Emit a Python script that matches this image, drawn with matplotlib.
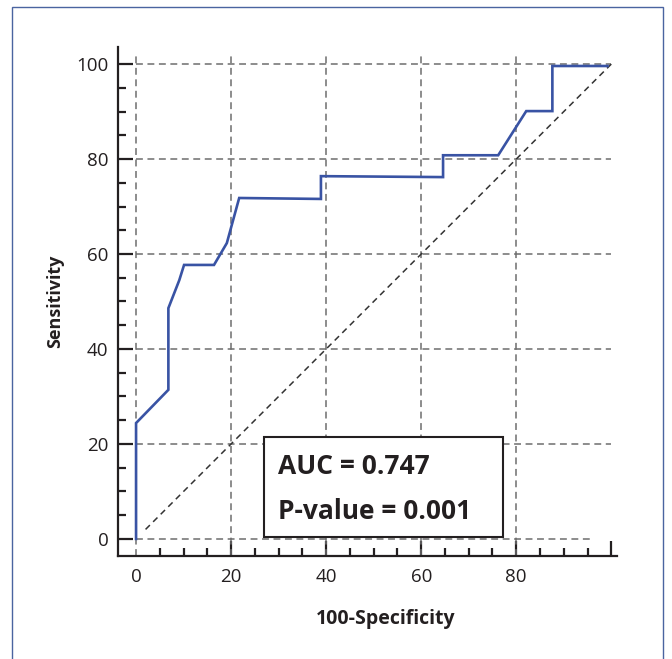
import matplotlib.pyplot as plt
from matplotlib.patches import Rectangle

# ROC curve points (100-specificity, sensitivity)
fpr = [0, 0, 6.8, 6.8, 9.1, 10.1, 16.4, 19.1, 21.7, 38.9, 38.9, 64.6, 64.6, 76.2, 82.1, 87.6, 87.6, 99.2]
tpr = [0, 24.4, 31.4, 48.6, 54.5, 57.7, 57.7, 62.3, 71.8, 71.6, 76.4, 76.2, 80.8, 80.8, 90.1, 90.1, 99.6, 99.6]
ticks = [0, 20, 40, 60, 80]
yticks = [0, 20, 40, 60, 80, 100]
auc_text = "AUC = 0.747"
p_text = "P-value = 0.001"

plt.rcParams['font.family'] = ['Open Sans', 'DejaVu Sans']
txt_col = '#231f20'

fig = plt.figure(figsize=(6.72, 6.59), dpi=100)
# outer frame
fig.patches.append(Rectangle((12 / 672, -0.05), 651 / 672, 1.04, transform=fig.transFigure,
                             fill=False, edgecolor='#4a64a0', lw=1.0))
ax = fig.add_axes([118 / 672, 1 - 556 / 659, 499 / 672, 509 / 659])

# grid
grid_kw = dict(color='#6d6d6d', lw=1.1, linestyles=(0, (4.5, 3)))
ax.hlines([20, 40, 60, 80, 100], 0, 100, **grid_kw)
ax.hlines([0], 0, 95.5, **grid_kw)
ax.vlines(ticks, -3.6, 102.3, **grid_kw)

# reference diagonal
ax.plot([2, 100], [2, 100], color='#333333', lw=1.1, ls=(0, (4, 3)))
# ROC curve
ax.plot(fpr, tpr, color='#3953a4', lw=1.9, solid_joinstyle='miter')

ax.set_xlim(-3.8, 101.2)
ax.set_ylim(-3.6, 103.6)
for s in ['top', 'right']:
    ax.spines[s].set_visible(False)
for s in ['left', 'bottom']:
    ax.spines[s].set_color(txt_col)
    ax.spines[s].set_linewidth(1.6)

ax.set_xticks(ticks + [100])
ax.set_xticklabels([str(t) for t in ticks] + [''])
ax.set_xticks([v for v in range(5, 100, 5) if v % 20], minor=True)
ax.set_yticks(yticks)
ax.set_yticks([v for v in range(5, 100, 5) if v % 20], minor=True)
ax.tick_params(which='major', direction='in', length=11, width=1.6, color=txt_col,
               labelsize=13.5, labelcolor=txt_col, pad=7)
ax.tick_params(which='minor', direction='in', length=6, width=1.6, color=txt_col)
ax.tick_params(axis='x', which='major', pad=9)
# no tick at 0 on x
ax.xaxis.get_major_ticks()[0].tick1line.set_visible(False)

ax.set_ylabel('Sensitivity', fontsize=13, fontweight='bold', color=txt_col)
ax.yaxis.set_label_coords(-0.108, 0.5)
ax.set_xlabel('100-Specificity', fontsize=14, fontweight='bold', color=txt_col)
ax.xaxis.set_label_coords(0.536, -0.104)

# annotation box
ax.add_patch(Rectangle((26.9, 0.4), 50.4, 21.1, fill=True, facecolor='white',
                       edgecolor='#231f20', lw=1.5, zorder=5))
ax.text(29.8, 15.2, auc_text, fontsize=19, fontweight='bold', color=txt_col,
        va='center', ha='left', zorder=6)
ax.text(29.8, 5.7, p_text, fontsize=19, fontweight='bold', color=txt_col,
        va='center', ha='left', zorder=6)

fig.savefig('out.png', dpi=100)
